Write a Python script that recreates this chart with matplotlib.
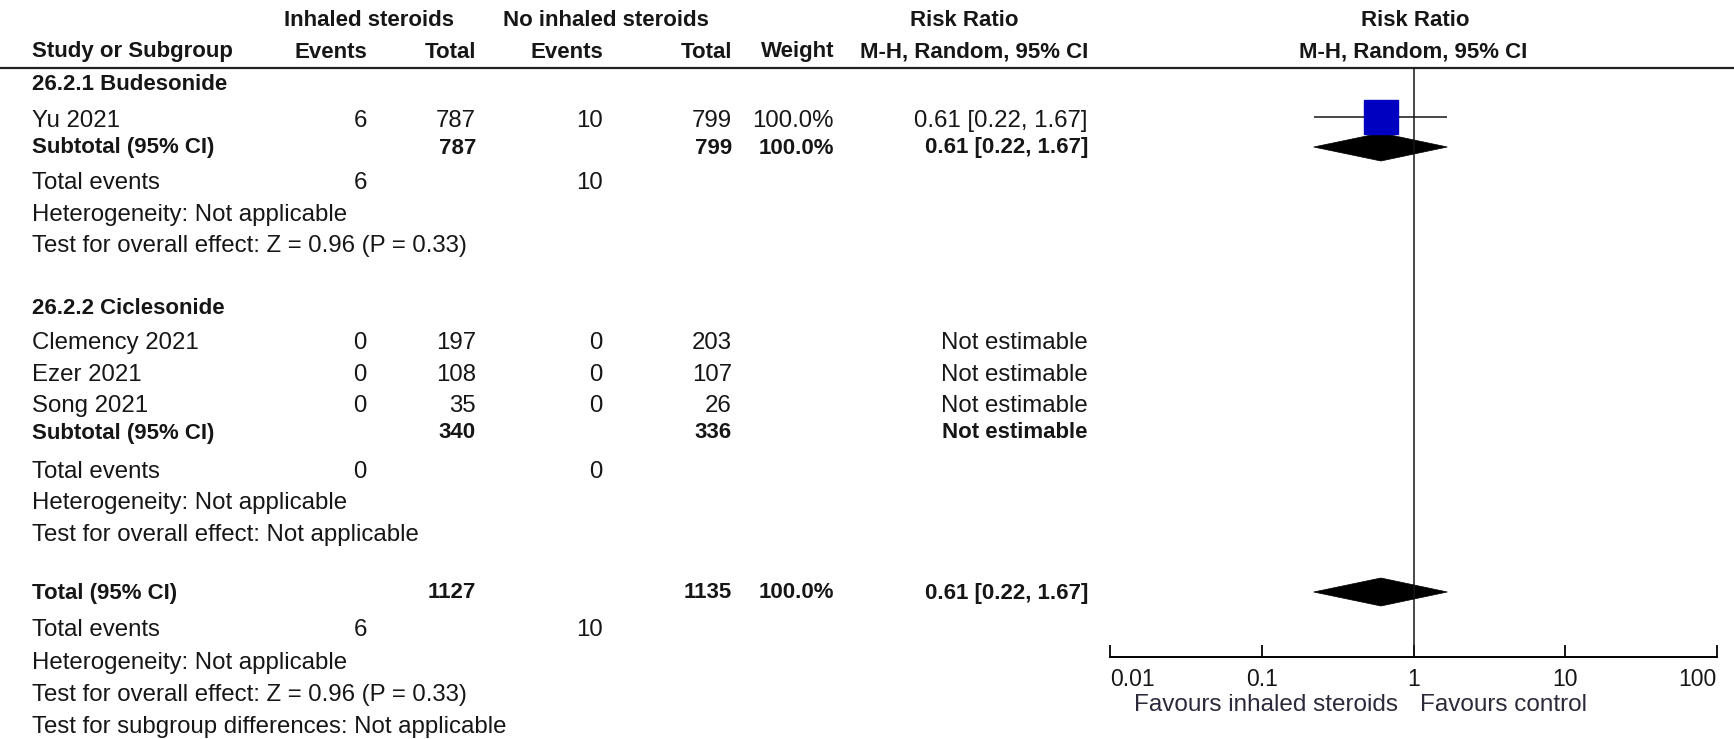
import numpy as np
import matplotlib
matplotlib.use("Agg")
import matplotlib.pyplot as plt
from matplotlib.patches import Polygon
from matplotlib.ticker import NullLocator

plt.rcParams["font.family"] = ["Liberation Sans", "DejaVu Sans"]

# study level data
groups = ["26.2.1 Budesonide", "26.2.2 Ciclesonide"]
studies = [["Yu 2021"], ["Clemency 2021", "Ezer 2021", "Song 2021"]]
events_t = [[6], [0, 0, 0]]
total_t = [[787], [197, 108, 35]]
events_c = [[10], [0, 0, 0]]
total_c = [[799], [203, 107, 26]]
weights = [[100.0], [None, None, None]]
rr = [[0.61], [None, None, None]]
ci_lo = [[0.22], [None, None, None]]
ci_hi = [[1.67], [None, None, None]]

# subgroup / overall pooled estimates
sub_weight = [100.0, None]
sub_rr = [0.61, None]
sub_lo = [0.22, None]
sub_hi = [1.67, None]
sub_het = ["Heterogeneity: Not applicable", "Heterogeneity: Not applicable"]
sub_test = ["Test for overall effect: Z = 0.96 (P = 0.33)",
            "Test for overall effect: Not applicable"]
tot_weight = 100.0
tot_rr, tot_lo, tot_hi = 0.61, 0.22, 1.67
tot_het = "Heterogeneity: Not applicable"
tot_test = "Test for overall effect: Z = 0.96 (P = 0.33)"
tot_sub = "Test for subgroup differences: Not applicable"

xticks = [0.01, 0.1, 1, 10, 100]
xticklabels = ["0.01", "0.1", "1", "10", "100"]
fav_left = "Favours inhaled steroids"
fav_right = "Favours control"

W, H = 1734, 739
FS, FSB = 17.3, 16
INK = "#161616"

fig = plt.figure(figsize=(W / 100, H / 100), dpi=100)
ax = fig.add_axes([0, 0, 1, 1])
ax.set_xlim(0, W)
ax.set_ylim(H, 0)
ax.axis("off")

# column anchors (right aligned numbers)
X_NAME, X_EV1, X_N1, X_EV2, X_N2, X_W, X_CI = 32, 367, 476, 603, 732, 834, 1088


def txt(x, y, s, bold=False, ha="left"):
    ax.text(x, y, s, ha=ha, va="center", fontsize=FSB if bold else FS,
            fontweight="bold" if bold else "normal", color=INK)


def fmt_ci(r, lo, hi):
    if r is None:
        return "Not estimable"
    return f"{r:.2f} [{lo:.2f}, {hi:.2f}]"


# header
txt(369, 21, "Inhaled steroids", True, "center")
txt(606, 21, "No inhaled steroids", True, "center")
txt(964, 21, "Risk Ratio", True, "center")
txt(1415, 21, "Risk Ratio", True, "center")
txt(X_NAME, 52, "Study or Subgroup", True)
txt(X_EV1, 52, "Events", True, "right")
txt(X_N1, 52, "Total", True, "right")
txt(X_EV2, 52, "Events", True, "right")
txt(X_N2, 52, "Total", True, "right")
txt(X_W, 52, "Weight", True, "right")
txt(X_CI, 52, "M-H, Random, 95% CI", True, "right")
txt(1413, 52, "M-H, Random, 95% CI", True, "center")
ax.plot([0, W], [68, 68], color="#222222", lw=1.6)

# forest panel on a log axis sharing the pixel rows
X0, X1 = 1110, 1717
axp = fig.add_axes([X0 / W, 0, (X1 - X0) / W, 1])
axp.set_xscale("log")
axp.set_xlim(xticks[0], xticks[-1])
axp.set_ylim(H, 0)
axp.patch.set_visible(False)
for s in ("left", "right", "top"):
    axp.spines[s].set_visible(False)
AXIS_Y = 657
axp.spines["bottom"].set_position(("data", AXIS_Y))
axp.spines["bottom"].set_linewidth(1.4)
axp.set_yticks([])
axp.set_xticks(xticks, labels=xticklabels)
axp.xaxis.set_minor_locator(NullLocator())
axp.tick_params(axis="x", direction="in", length=9, width=1.4, pad=8,
                labelsize=16.5, colors=INK)
tl = axp.get_xticklabels()
tl[0].set_ha("left")
tl[-1].set_ha("right")
axp.vlines(1, 68, AXIS_Y, color=INK, lw=1.1)
axp.annotate(fav_left, (1, 705), xytext=(-15, 0), textcoords="offset pixels",
             ha="right", va="center", fontsize=17.5, color="#2a2a3a")
axp.annotate(fav_right, (1, 705), xytext=(7, 0), textcoords="offset pixels",
             ha="left", va="center", fontsize=17.5, color="#2a2a3a")


def diamond(r, lo, hi, y, h=14):
    axp.add_patch(Polygon([(lo, y), (r, y - h), (hi, y), (r, y + h)],
                          closed=True, facecolor="black", edgecolor="black", lw=0.5))


group_rows = [
    dict(title=84, studies=[121], sub=148, ev=183, het=215, test=246),
    dict(title=308, studies=[343, 375, 406], sub=433, ev=472, het=503, test=535),
]

for g, rows in enumerate(group_rows):
    txt(X_NAME, rows["title"], groups[g], True)
    for i, y in enumerate(rows["studies"]):
        txt(X_NAME, y, studies[g][i])
        txt(X_EV1, y, str(events_t[g][i]), ha="right")
        txt(X_N1, y, str(total_t[g][i]), ha="right")
        txt(X_EV2, y, str(events_c[g][i]), ha="right")
        txt(X_N2, y, str(total_c[g][i]), ha="right")
        if weights[g][i] is not None:
            txt(X_W, y, f"{weights[g][i]:.1f}%", ha="right")
        txt(X_CI, y, fmt_ci(rr[g][i], ci_lo[g][i], ci_hi[g][i]), ha="right")
        if rr[g][i] is not None:
            axp.hlines(y - 4, ci_lo[g][i], ci_hi[g][i], color=INK, lw=1.1)
            ms = 25 * np.sqrt(weights[g][i] / 100)
            axp.plot(rr[g][i], y - 4, marker="s", ms=ms, color="#0000c0",
                     mec="#0000c0", ls="none")
    y = rows["sub"]
    txt(X_NAME, y, "Subtotal (95% CI)", True)
    txt(X_N1, y, str(sum(total_t[g])), True, "right")
    txt(X_N2, y, str(sum(total_c[g])), True, "right")
    if sub_weight[g] is not None:
        txt(X_W, y, f"{sub_weight[g]:.1f}%", True, "right")
    txt(X_CI, y, fmt_ci(sub_rr[g], sub_lo[g], sub_hi[g]), True, "right")
    if sub_rr[g] is not None:
        diamond(sub_rr[g], sub_lo[g], sub_hi[g], y - 1)
    txt(X_NAME, rows["ev"], "Total events")
    txt(X_EV1, rows["ev"], str(sum(events_t[g])), ha="right")
    txt(X_EV2, rows["ev"], str(sum(events_c[g])), ha="right")
    txt(X_NAME, rows["het"], sub_het[g])
    txt(X_NAME, rows["test"], sub_test[g])

# overall
y = 593
txt(X_NAME, y, "Total (95% CI)", True)
txt(X_N1, y, str(sum(map(sum, total_t))), True, "right")
txt(X_N2, y, str(sum(map(sum, total_c))), True, "right")
txt(X_W, y, f"{tot_weight:.1f}%", True, "right")
txt(X_CI, y, fmt_ci(tot_rr, tot_lo, tot_hi), True, "right")
diamond(tot_rr, tot_lo, tot_hi, y - 1)
txt(X_NAME, 630, "Total events")
txt(X_EV1, 630, str(sum(map(sum, events_t))), ha="right")
txt(X_EV2, 630, str(sum(map(sum, events_c))), ha="right")
txt(X_NAME, 663, tot_het)
txt(X_NAME, 695, tot_test)
txt(X_NAME, 727, tot_sub)

fig.savefig("out.png", dpi=100)
